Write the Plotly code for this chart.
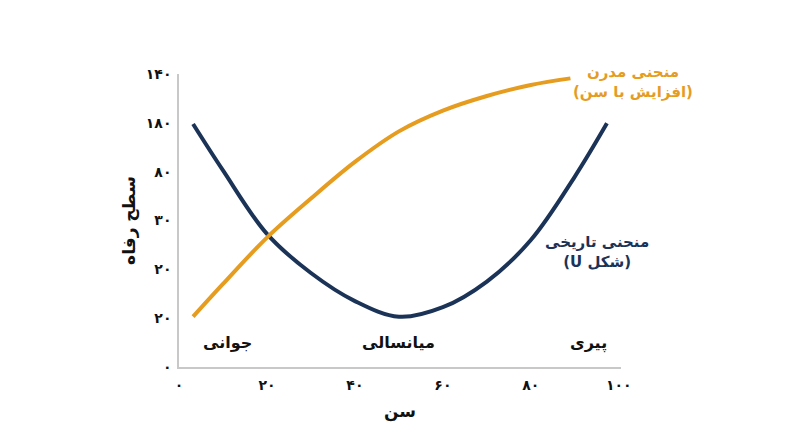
import plotly.graph_objects as go

# U-shaped (historical) curve
hist_age = [3.2, 10, 20, 30, 40, 50, 60, 70, 80, 90, 97.3]
hist_welfare = [99.5, 80.5, 54.5, 38.5, 27, 20.6, 24.5, 35, 52, 78, 99.8]

# modern curve (rising with age)
modern_age = [3.2, 10, 20, 30, 40, 50, 60, 70, 80, 89]
modern_welfare = [20.6, 34, 53, 69, 84, 96.5, 105, 111, 115.5, 118.2]

x_ticks = [0, 20, 40, 60, 80, 100]
x_labels = ['۰', '۲۰', '۴۰', '۶۰', '۸۰', '۱۰۰']
y_ticks = [0, 20, 40, 60, 80, 100, 120]
y_labels = ['۰', '۲۰', '۲۰', '۳۰', '۸۰', '۱۸۰', '۱۴۰']

stage_names = ['جوانی', 'میانسالی', 'پیری']
stage_x = [11, 50, 93]

NAVY = '#1b3357'
ORANGE = '#e59c1f'
FONT = 'DejaVu Sans'

fig = go.Figure()
fig.add_trace(go.Scatter(x=hist_age, y=hist_welfare, mode='lines',
                         line=dict(color=NAVY, width=4, shape='spline', smoothing=1),
                         hoverinfo='skip'))
fig.add_trace(go.Scatter(x=modern_age, y=modern_welfare, mode='lines',
                         line=dict(color=ORANGE, width=4, shape='spline', smoothing=1),
                         hoverinfo='skip'))

for name, sx in zip(stage_names, stage_x):
    fig.add_annotation(x=sx, y=10, text='<b>' + name + '</b>', showarrow=False,
                       font=dict(family=FONT, size=16, color='#111111'))

# curve labels
fig.add_annotation(x=1.027, y=0.974, xref='paper', yref='paper',
                   xanchor='center', yanchor='middle',
                   text='<b>منحنی مدرن<br>(افزایش با سن)</b>',
                   showarrow=False, font=dict(family=FONT, size=15, color=ORANGE))
# the browser lays this line out right-to-left, so U goes first
fig.add_annotation(x=95, y=46.9, xanchor='center', yanchor='middle',
                   text='<b>منحنی تاریخی<br>(U شکل)</b>',
                   showarrow=False, font=dict(family=FONT, size=15, color=NAVY))

# page body has an 8px margin, so the margins are shifted by 8
fig.update_layout(
    width=800, height=447,
    margin=dict(l=171, r=187, t=66, b=88),
    paper_bgcolor='white', plot_bgcolor='white',
    showlegend=False,
    font=dict(family=FONT, color='#111111'),
    xaxis=dict(range=[0, 100.5], tickvals=x_ticks,
               ticktext=['<b>' + t + '</b>' for t in x_labels],
               showgrid=False, zeroline=False, showline=True, automargin=False,
               linecolor='#c8c8c8', linewidth=1.5, ticks='', ticklabelstandoff=4,
               tickfont=dict(family=FONT, size=14, color='#111111'),
               title=dict(text='<b>سن</b>', font=dict(family=FONT, size=17), standoff=14)),
    yaxis=dict(range=[0, 120], tickvals=y_ticks,
               ticktext=['<b>' + t + '</b>' for t in y_labels],
               showgrid=False, zeroline=False, showline=True, automargin=False,
               linecolor='#c8c8c8', linewidth=1.5, ticks='', ticklabelstandoff=3,
               tickfont=dict(family=FONT, size=14, color='#111111'),
               title=dict(text='<b>سطح رفاه</b>', font=dict(family=FONT, size=17), standoff=6)),
)

fig.write_html("out.html")
